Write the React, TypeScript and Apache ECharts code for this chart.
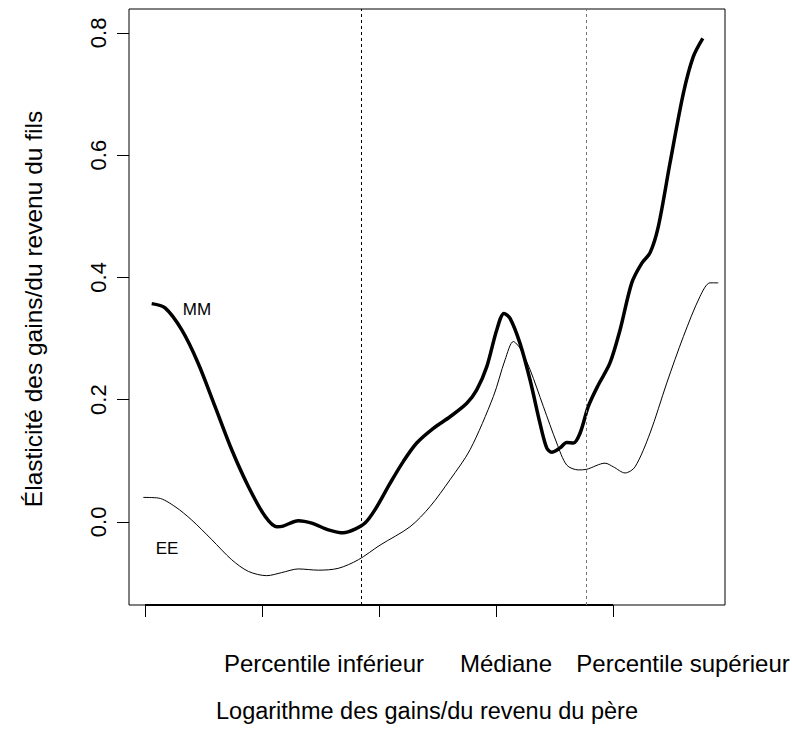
import React, { useEffect, useRef } from "react";
import * as echarts from "echarts";

// Father's log earnings position (tick units) and son's elasticity
const mmX = [0.057, 0.171, 0.314, 0.453, 0.598, 0.741, 0.883, 1.026, 1.126, 1.179, 1.31, 1.425, 1.567, 1.695, 1.795, 1.88, 1.966, 2.094, 2.208, 2.322, 2.464, 2.607, 2.75, 2.835, 2.921, 3.006, 3.068, 3.12, 3.205, 3.291, 3.376, 3.433, 3.476, 3.547, 3.604, 3.661, 3.718, 3.789, 3.874, 3.974, 4.06, 4.16, 4.245, 4.316, 4.387, 4.487, 4.601, 4.686, 4.767];
const mmY = [0.357, 0.35, 0.314, 0.26, 0.189, 0.118, 0.058, 0.009, -0.008, -0.007, 0.002, -0.002, -0.013, -0.018, -0.012, -0.002, 0.02, 0.063, 0.099, 0.129, 0.153, 0.172, 0.194, 0.216, 0.254, 0.314, 0.341, 0.333, 0.292, 0.232, 0.161, 0.121, 0.114, 0.121, 0.13, 0.129, 0.145, 0.189, 0.224, 0.26, 0.314, 0.391, 0.423, 0.44, 0.483, 0.587, 0.701, 0.761, 0.791];

const eeX = [-0.015, 0.114, 0.256, 0.399, 0.57, 0.741, 0.883, 1.04, 1.168, 1.31, 1.481, 1.652, 1.823, 2.009, 2.265, 2.436, 2.607, 2.778, 2.977, 3.077, 3.148, 3.205, 3.291, 3.404, 3.519, 3.604, 3.703, 3.775, 3.932, 4.003, 4.103, 4.188, 4.316, 4.459, 4.601, 4.744, 4.829, 4.9];
const eeY = [0.04, 0.039, 0.025, 0.003, -0.029, -0.062, -0.081, -0.088, -0.083, -0.077, -0.079, -0.076, -0.062, -0.038, -0.008, 0.025, 0.069, 0.118, 0.205, 0.265, 0.295, 0.284, 0.249, 0.189, 0.129, 0.093, 0.085, 0.086, 0.096, 0.09, 0.08, 0.09, 0.145, 0.227, 0.303, 0.369, 0.391, 0.391];

const xTicks = [0, 1, 2, 3, 4];
const yTicks = [0, 0.2, 0.4, 0.6, 0.8];
const refLines = [1.852, 3.775];
const xLabels = ["Percentile inférieur", "Médiane", "Percentile supérieur"];
const xTitle = "Logarithme des gains/du revenu du père";
const yTitle = "Élasticité des gains/du revenu du fils";

const X_MIN = -0.137;
const X_MAX = 4.957;
const Y_MIN = -0.136;
const Y_MAX = 0.839;

const FONT = "'Liberation Sans', Arial, Helvetica, sans-serif";

export default function App() {
  const ref = useRef<HTMLDivElement>(null);

  useEffect(() => {
    if (!ref.current) return;
    const chart = echarts.init(ref.current, null, { renderer: "svg" });
    const mm = mmX.map((x, i) => [x, mmY[i]]);
    const ee = eeX.map((x, i) => [x, eeY[i]]);

    chart.setOption({
      animation: false,
      backgroundColor: "#ffffff",
      grid: {
        left: 129,
        top: 9,
        width: 596,
        height: 596,
        show: true,
        borderColor: "#000",
        borderWidth: 1,
        backgroundColor: "transparent",
      },
      xAxis: {
        type: "value",
        min: X_MIN,
        max: X_MAX,
        axisLine: { show: false, onZero: false },
        splitLine: { show: false },
        axisTick: {
          show: true,
          customValues: xTicks,
          length: 12,
          lineStyle: { color: "#000", width: 1 },
        },
        axisLabel: { show: false },
      },
      yAxis: {
        type: "value",
        min: Y_MIN,
        max: Y_MAX,
        axisLine: { show: false, onZero: false },
        splitLine: { show: false },
        axisTick: {
          show: true,
          customValues: yTicks,
          length: 12,
          lineStyle: { color: "#000", width: 1 },
        },
        axisLabel: {
          show: true,
          customValues: yTicks,
          rotate: 90,
          margin: 20,
          formatter: (v: number) => v.toFixed(1),
          color: "#000",
          fontSize: 22,
          fontFamily: FONT,
        },
      },
      series: [
        {
          type: "line",
          name: "MM",
          data: mm,
          smooth: 0.3,
          showSymbol: false,
          lineStyle: { color: "#000", width: 3.5 },
          z: 3,
          markLine: {
            silent: true,
            symbol: ["none", "none"],
            label: { show: false },
            data: [
              { xAxis: refLines[0], lineStyle: { color: "#000", type: [3, 3], width: 1 } },
              { xAxis: refLines[1], lineStyle: { color: "#777", type: [3, 3], width: 1 } },
            ],
          },
        },
        {
          type: "line",
          name: "EE",
          data: ee,
          smooth: 0.3,
          showSymbol: false,
          lineStyle: { color: "#000", width: 1 },
          z: 2,
        },
        {
          type: "line",
          name: "axis",
          data: [
            [xTicks[0], Y_MIN],
            [xTicks[xTicks.length - 1], Y_MIN],
          ],
          showSymbol: false,
          clip: false,
          lineStyle: { color: "#000", width: 2 },
          z: 4,
        },
      ],
      graphic: [
        {
          type: "text",
          x: 197,
          y: 309,
          style: { text: "MM", font: `17px ${FONT}`, fill: "#000", textAlign: "center", textVerticalAlign: "middle" },
        },
        {
          type: "text",
          x: 167,
          y: 548,
          style: { text: "EE", font: `17px ${FONT}`, fill: "#000", textAlign: "center", textVerticalAlign: "middle" },
        },
        {
          type: "text",
          x: 324,
          y: 663,
          style: { text: xLabels[0], font: `24px ${FONT}`, fill: "#000", textAlign: "center", textVerticalAlign: "middle" },
        },
        {
          type: "text",
          x: 506,
          y: 663,
          style: { text: xLabels[1], font: `24px ${FONT}`, fill: "#000", textAlign: "center", textVerticalAlign: "middle" },
        },
        {
          type: "text",
          x: 683,
          y: 663,
          style: { text: xLabels[2], font: `24px ${FONT}`, fill: "#000", textAlign: "center", textVerticalAlign: "middle" },
        },
        {
          type: "text",
          x: 427,
          y: 711,
          style: { text: xTitle, font: `23.5px ${FONT}`, fill: "#000", textAlign: "center", textVerticalAlign: "middle" },
        },
        {
          type: "text",
          x: 33,
          y: 309,
          rotation: Math.PI / 2,
          style: { text: yTitle, font: `24.5px ${FONT}`, fill: "#000", textAlign: "center", textVerticalAlign: "middle" },
        },
      ],
    });

    return () => chart.dispose();
  }, []);

  return (
    <div
      ref={ref}
      style={{ position: "fixed", left: 0, top: 0, width: 792, height: 742, background: "#fff" }}
    />
  );
}
